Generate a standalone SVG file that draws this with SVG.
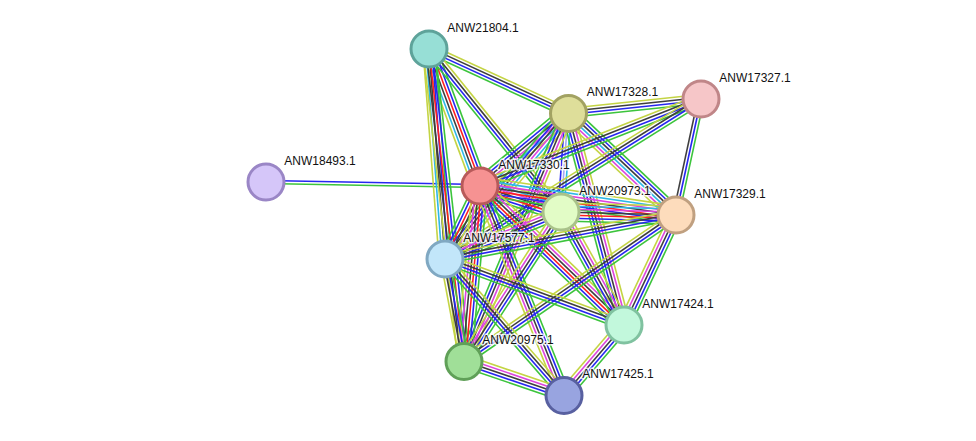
<svg xmlns="http://www.w3.org/2000/svg" width="976" height="441" viewBox="0 0 976 441">
<style>
#edges line{stroke-width:1.6;fill:none}
.y{stroke:#c4d444}.c{stroke:#2eb8e6}.m{stroke:#dd44dd}.k{stroke:#3e3e3e}.r{stroke:#ff2020}.b{stroke:#2626f0}.g{stroke:#3cc43c}.l{stroke:#a6a6f5}
.node circle{stroke-width:3}
.node text{font-family:"Liberation Sans",Arial,sans-serif;font-size:12px;fill:#111;stroke:#fff;stroke-width:3;stroke-opacity:0.8;paint-order:stroke;stroke-linejoin:round}
</style>
<rect width="976" height="441" fill="#fff"/>
<g id="edges">
<g transform="translate(266,182) rotate(1.07)"><line class="b" y1="-1.5" x2="214" y2="-1.5"/><line class="g" y1="1.5" x2="214" y2="1.5"/></g>
<g transform="translate(429,49) rotate(24.72)"><line class="y" y1="-4.5" x2="153" y2="-4.5"/><line class="k" y1="-1.5" x2="153" y2="-1.5"/><line class="b" y1="1.5" x2="153" y2="1.5"/><line class="g" y1="4.5" x2="153" y2="4.5"/></g>
<g transform="translate(429,49) rotate(69.58)"><line class="g" y1="-7.5" x2="146.2" y2="-7.5"/><line class="b" y1="-4.5" x2="146.2" y2="-4.5"/><line class="r" y1="-1.5" x2="146.2" y2="-1.5"/><line class="k" y1="1.5" x2="146.2" y2="1.5"/><line class="c" y1="4.5" x2="146.2" y2="4.5"/><line class="y" y1="7.5" x2="146.2" y2="7.5"/></g>
<g transform="translate(429,49) rotate(85.64)"><line class="g" y1="-6" x2="210.6" y2="-6"/><line class="b" y1="-3" x2="210.6" y2="-3"/><line class="k" y1="0" x2="210.6" y2="0"/><line class="c" y1="3" x2="210.6" y2="3"/><line class="y" y1="6" x2="210.6" y2="6"/></g>
<g transform="translate(429,49) rotate(83.60)"><line class="g" y1="-6" x2="314" y2="-6"/><line class="b" y1="-3" x2="314" y2="-3"/><line class="r" y1="0" x2="314" y2="0"/><line class="k" y1="3" x2="314" y2="3"/><line class="y" y1="6" x2="314" y2="6"/></g>
<g transform="translate(429,49) rotate(51.00)"><line class="y" y1="-4.5" x2="209.8" y2="-4.5"/><line class="k" y1="-1.5" x2="209.8" y2="-1.5"/><line class="b" y1="1.5" x2="209.8" y2="1.5"/><line class="g" y1="4.5" x2="209.8" y2="4.5"/></g>
<g transform="translate(568,113) rotate(-6.01)"><line class="y" y1="-4.5" x2="133.7" y2="-4.5"/><line class="k" y1="-1.5" x2="133.7" y2="-1.5"/><line class="b" y1="1.5" x2="133.7" y2="1.5"/><line class="g" y1="4.5" x2="133.7" y2="4.5"/></g>
<g transform="translate(568,113) rotate(140.32)"><line class="y" y1="-7.5" x2="114.3" y2="-7.5"/><line class="c" y1="-4.5" x2="114.3" y2="-4.5"/><line class="m" y1="-1.5" x2="114.3" y2="-1.5"/><line class="k" y1="1.5" x2="114.3" y2="1.5"/><line class="b" y1="4.5" x2="114.3" y2="4.5"/><line class="g" y1="7.5" x2="114.3" y2="7.5"/></g>
<g transform="translate(568,113) rotate(94.04)"><line class="c" y1="-3" x2="99.3" y2="-3"/><line class="l" y1="0" x2="99.3" y2="0"/><line class="b" y1="3" x2="99.3" y2="3"/></g>
<g transform="translate(568,113) rotate(43.36)"><line class="g" y1="-7.5" x2="148.6" y2="-7.5"/><line class="b" y1="-4.5" x2="148.6" y2="-4.5"/><line class="k" y1="-1.5" x2="148.6" y2="-1.5"/><line class="c" y1="1.5" x2="148.6" y2="1.5"/><line class="m" y1="4.5" x2="148.6" y2="4.5"/><line class="y" y1="7.5" x2="148.6" y2="7.5"/></g>
<g transform="translate(568,113) rotate(130.11)"><line class="y" y1="-7.5" x2="190.9" y2="-7.5"/><line class="c" y1="-4.5" x2="190.9" y2="-4.5"/><line class="m" y1="-1.5" x2="190.9" y2="-1.5"/><line class="k" y1="1.5" x2="190.9" y2="1.5"/><line class="b" y1="4.5" x2="190.9" y2="4.5"/><line class="g" y1="7.5" x2="190.9" y2="7.5"/></g>
<g transform="translate(568,113) rotate(75.20)"><line class="y" y1="-6" x2="219.3" y2="-6"/><line class="m" y1="-3" x2="219.3" y2="-3"/><line class="k" y1="0" x2="219.3" y2="0"/><line class="b" y1="3" x2="219.3" y2="3"/><line class="g" y1="6" x2="219.3" y2="6"/></g>
<g transform="translate(568,113) rotate(112.75)"><line class="y" y1="-6" x2="268.9" y2="-6"/><line class="m" y1="-3" x2="268.9" y2="-3"/><line class="k" y1="0" x2="268.9" y2="0"/><line class="b" y1="3" x2="268.9" y2="3"/><line class="g" y1="6" x2="268.9" y2="6"/></g>
<g transform="translate(676,215) rotate(-77.84)"><line class="k" y1="-3" x2="118.7" y2="-3"/><line class="b" y1="0" x2="118.7" y2="0"/><line class="g" y1="3" x2="118.7" y2="3"/></g>
<g transform="translate(701,99) rotate(158.51)"><line class="g" y1="-4.5" x2="237.5" y2="-4.5"/><line class="b" y1="-1.5" x2="237.5" y2="-1.5"/><line class="k" y1="1.5" x2="237.5" y2="1.5"/><line class="y" y1="4.5" x2="237.5" y2="4.5"/></g>
<g transform="translate(701,99) rotate(147.99)"><line class="g" y1="-4.5" x2="301.9" y2="-4.5"/><line class="b" y1="-1.5" x2="301.9" y2="-1.5"/><line class="k" y1="1.5" x2="301.9" y2="1.5"/><line class="y" y1="4.5" x2="301.9" y2="4.5"/></g>
<g transform="translate(480,186) rotate(17.80)"><line class="y" y1="-9" x2="85.1" y2="-9"/><line class="c" y1="-6" x2="85.1" y2="-6"/><line class="m" y1="-3" x2="85.1" y2="-3"/><line class="k" y1="0" x2="85.1" y2="0"/><line class="r" y1="3" x2="85.1" y2="3"/><line class="b" y1="6" x2="85.1" y2="6"/><line class="g" y1="9" x2="85.1" y2="9"/></g>
<g transform="translate(480,186) rotate(8.42)"><line class="y" y1="-9" x2="198.1" y2="-9"/><line class="c" y1="-6" x2="198.1" y2="-6"/><line class="m" y1="-3" x2="198.1" y2="-3"/><line class="k" y1="0" x2="198.1" y2="0"/><line class="r" y1="3" x2="198.1" y2="3"/><line class="b" y1="6" x2="198.1" y2="6"/><line class="g" y1="9" x2="198.1" y2="9"/></g>
<g transform="translate(480,186) rotate(115.61)"><line class="y" y1="-6" x2="81" y2="-6"/><line class="k" y1="-3" x2="81" y2="-3"/><line class="r" y1="0" x2="81" y2="0"/><line class="b" y1="3" x2="81" y2="3"/><line class="g" y1="6" x2="81" y2="6"/></g>
<g transform="translate(480,186) rotate(43.99)"><line class="y" y1="-7.5" x2="200.1" y2="-7.5"/><line class="m" y1="-4.5" x2="200.1" y2="-4.5"/><line class="k" y1="-1.5" x2="200.1" y2="-1.5"/><line class="r" y1="1.5" x2="200.1" y2="1.5"/><line class="b" y1="4.5" x2="200.1" y2="4.5"/><line class="g" y1="7.5" x2="200.1" y2="7.5"/></g>
<g transform="translate(480,186) rotate(95.22)"><line class="g" y1="-7.5" x2="175.7" y2="-7.5"/><line class="b" y1="-4.5" x2="175.7" y2="-4.5"/><line class="r" y1="-1.5" x2="175.7" y2="-1.5"/><line class="k" y1="1.5" x2="175.7" y2="1.5"/><line class="m" y1="4.5" x2="175.7" y2="4.5"/><line class="y" y1="7.5" x2="175.7" y2="7.5"/></g>
<g transform="translate(480,186) rotate(68.10)"><line class="g" y1="-6" x2="225.3" y2="-6"/><line class="b" y1="-3" x2="225.3" y2="-3"/><line class="k" y1="0" x2="225.3" y2="0"/><line class="m" y1="3" x2="225.3" y2="3"/><line class="y" y1="6" x2="225.3" y2="6"/></g>
<g transform="translate(561,212) rotate(1.49)"><line class="y" y1="-9" x2="115" y2="-9"/><line class="c" y1="-6" x2="115" y2="-6"/><line class="m" y1="-3" x2="115" y2="-3"/><line class="k" y1="0" x2="115" y2="0"/><line class="r" y1="3" x2="115" y2="3"/><line class="b" y1="6" x2="115" y2="6"/><line class="g" y1="9" x2="115" y2="9"/></g>
<g transform="translate(561,212) rotate(157.94)"><line class="g" y1="-6" x2="125.2" y2="-6"/><line class="b" y1="-3" x2="125.2" y2="-3"/><line class="k" y1="0" x2="125.2" y2="0"/><line class="m" y1="3" x2="125.2" y2="3"/><line class="y" y1="6" x2="125.2" y2="6"/></g>
<g transform="translate(561,212) rotate(60.86)"><line class="y" y1="-6" x2="129.4" y2="-6"/><line class="m" y1="-3" x2="129.4" y2="-3"/><line class="k" y1="0" x2="129.4" y2="0"/><line class="b" y1="3" x2="129.4" y2="3"/><line class="g" y1="6" x2="129.4" y2="6"/></g>
<g transform="translate(561,212) rotate(123.06)"><line class="g" y1="-6" x2="177.8" y2="-6"/><line class="b" y1="-3" x2="177.8" y2="-3"/><line class="k" y1="0" x2="177.8" y2="0"/><line class="m" y1="3" x2="177.8" y2="3"/><line class="y" y1="6" x2="177.8" y2="6"/></g>
<g transform="translate(676,215) rotate(169.22)"><line class="g" y1="-4.5" x2="235.2" y2="-4.5"/><line class="b" y1="-1.5" x2="235.2" y2="-1.5"/><line class="k" y1="1.5" x2="235.2" y2="1.5"/><line class="y" y1="4.5" x2="235.2" y2="4.5"/></g>
<g transform="translate(676,215) rotate(115.30)"><line class="g" y1="-6" x2="121.7" y2="-6"/><line class="b" y1="-3" x2="121.7" y2="-3"/><line class="k" y1="0" x2="121.7" y2="0"/><line class="m" y1="3" x2="121.7" y2="3"/><line class="y" y1="6" x2="121.7" y2="6"/></g>
<g transform="translate(676,215) rotate(145.44)"><line class="g" y1="-4.5" x2="257.4" y2="-4.5"/><line class="b" y1="-1.5" x2="257.4" y2="-1.5"/><line class="k" y1="1.5" x2="257.4" y2="1.5"/><line class="y" y1="4.5" x2="257.4" y2="4.5"/></g>
<g transform="translate(445,259) rotate(20.24)"><line class="y" y1="-4.5" x2="190.8" y2="-4.5"/><line class="k" y1="-1.5" x2="190.8" y2="-1.5"/><line class="b" y1="1.5" x2="190.8" y2="1.5"/><line class="g" y1="4.5" x2="190.8" y2="4.5"/></g>
<g transform="translate(445,259) rotate(79.45)"><line class="g" y1="-4.5" x2="103.8" y2="-4.5"/><line class="b" y1="-1.5" x2="103.8" y2="-1.5"/><line class="k" y1="1.5" x2="103.8" y2="1.5"/><line class="y" y1="4.5" x2="103.8" y2="4.5"/></g>
<g transform="translate(445,259) rotate(48.81)"><line class="y" y1="-4.5" x2="180.7" y2="-4.5"/><line class="k" y1="-1.5" x2="180.7" y2="-1.5"/><line class="b" y1="1.5" x2="180.7" y2="1.5"/><line class="g" y1="4.5" x2="180.7" y2="4.5"/></g>
<g transform="translate(624,325) rotate(130.60)"><line class="g" y1="-6" x2="92.2" y2="-6"/><line class="b" y1="-3" x2="92.2" y2="-3"/><line class="k" y1="0" x2="92.2" y2="0"/><line class="m" y1="3" x2="92.2" y2="3"/><line class="y" y1="6" x2="92.2" y2="6"/></g>
<g transform="translate(464,361) rotate(18.78)"><line class="y" y1="-6" x2="105.6" y2="-6"/><line class="m" y1="-3" x2="105.6" y2="-3"/><line class="k" y1="0" x2="105.6" y2="0"/><line class="b" y1="3" x2="105.6" y2="3"/><line class="g" y1="6" x2="105.6" y2="6"/></g>
</g>
<g id="n-ANW18493.1" class="node"><circle cx="266" cy="182" r="18" fill="#d5c6f9" stroke="#9a86c6"/><text x="284.3" y="164.5">ANW18493.1</text></g>
<g id="n-ANW21804.1" class="node"><circle cx="429" cy="49" r="18" fill="#97dfd6" stroke="#5ea39a"/><text x="447.3" y="31.5">ANW21804.1</text></g>
<g id="n-ANW17328.1" class="node"><circle cx="568.5" cy="113.5" r="18" fill="#dede9a" stroke="#a2a262"/><text x="586.8" y="96">ANW17328.1</text></g>
<g id="n-ANW17327.1" class="node"><circle cx="701" cy="99" r="18" fill="#f6c6c8" stroke="#c08688"/><text x="719.3" y="81.5">ANW17327.1</text></g>
<g id="n-ANW17330.1" class="node"><circle cx="480" cy="186" r="18" fill="#f69292" stroke="#b85a5a"/><text x="498.3" y="168.5">ANW17330.1</text></g>
<g id="n-ANW20973.1" class="node"><circle cx="561" cy="212" r="18" fill="#e2fcc6" stroke="#a9c28a"/><text x="579.3" y="194.5">ANW20973.1</text></g>
<g id="n-ANW17329.1" class="node"><circle cx="676" cy="215" r="18" fill="#fddcbc" stroke="#c0a080"/><text x="694.3" y="197.5">ANW17329.1</text></g>
<g id="n-ANW17577.1" class="node"><circle cx="445" cy="259" r="18" fill="#c2e6fa" stroke="#80a8c2"/><text x="463.3" y="241.5">ANW17577.1</text></g>
<g id="n-ANW17424.1" class="node"><circle cx="624" cy="325" r="18" fill="#c2f8dc" stroke="#80c2a0"/><text x="642.3" y="307.5">ANW17424.1</text></g>
<g id="n-ANW20975.1" class="node"><circle cx="464" cy="361.5" r="18" fill="#a0df98" stroke="#60a058"/><text x="482.3" y="344">ANW20975.1</text></g>
<g id="n-ANW17425.1" class="node"><circle cx="564" cy="395.5" r="18" fill="#98a4e0" stroke="#5860a0"/><text x="582.3" y="378">ANW17425.1</text></g>
</svg>
